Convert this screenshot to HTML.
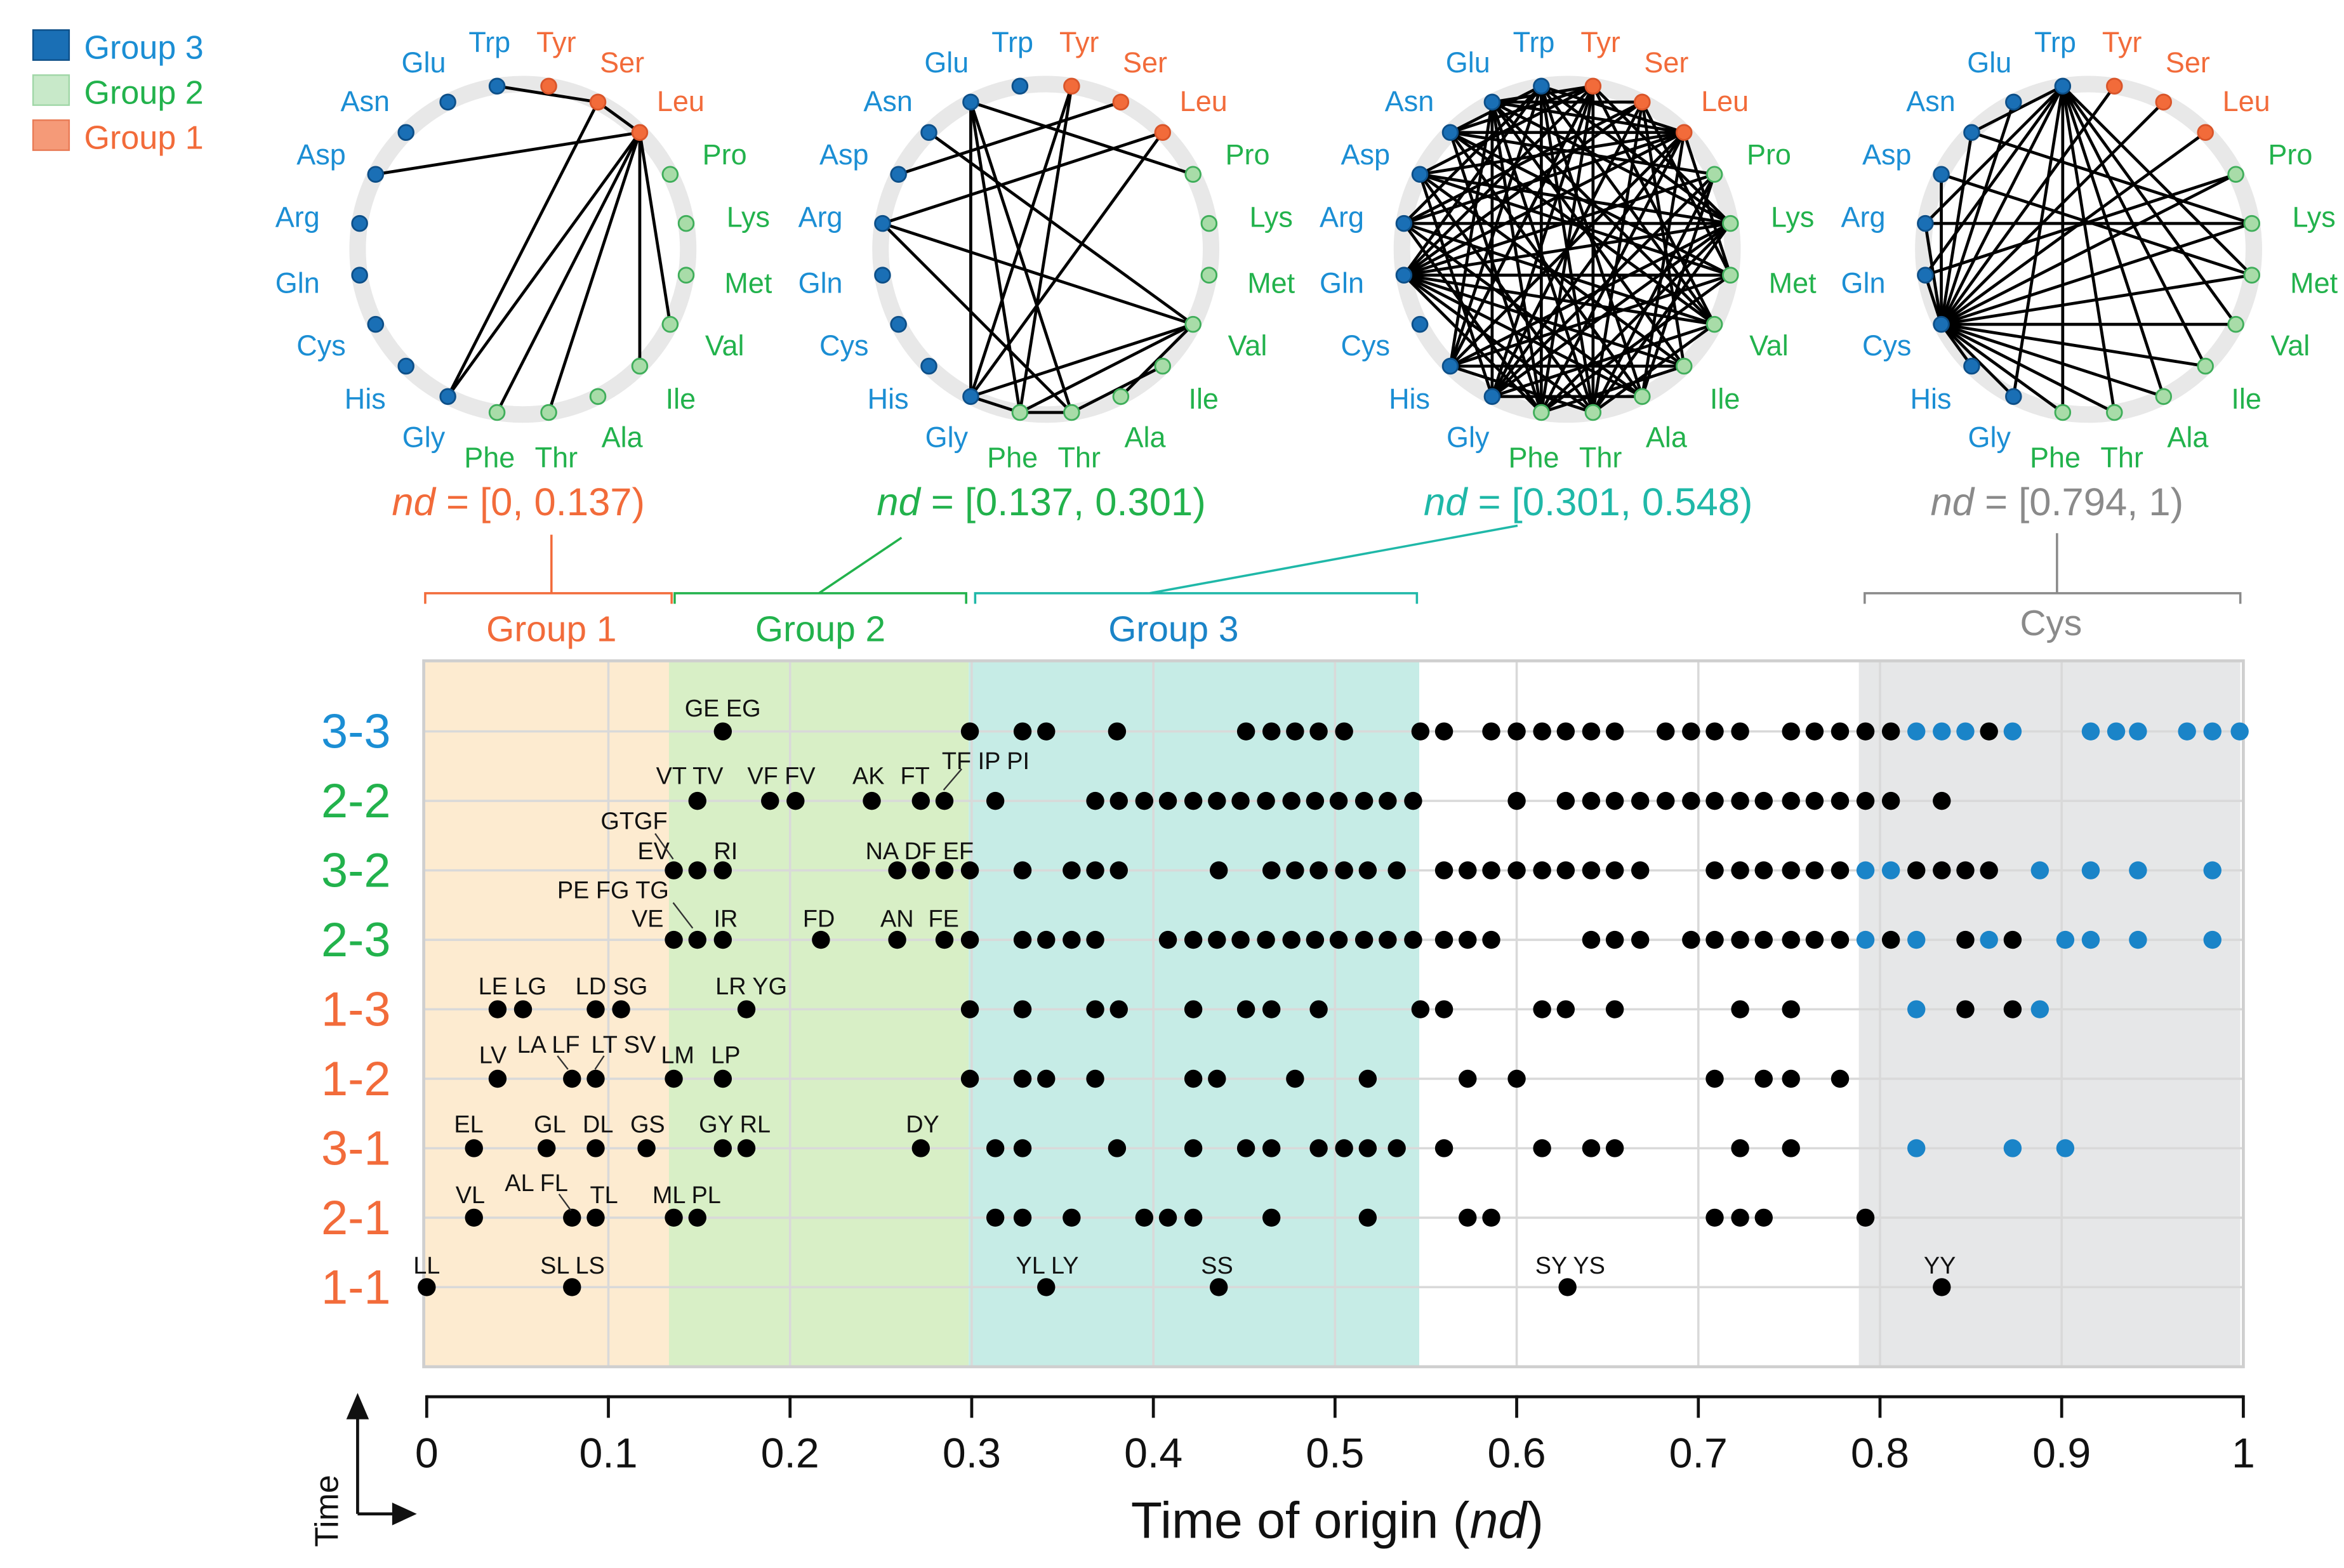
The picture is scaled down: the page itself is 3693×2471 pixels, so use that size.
<!DOCTYPE html>
<html><head><meta charset="utf-8">
<style>
html,body{margin:0;padding:0;background:#fff;}
svg{display:block;font-family:"Liberation Sans",sans-serif;}
</style></head>
<body>
<svg id="fig" width="3693" height="2471" viewBox="0 0 1560 1044" preserveAspectRatio="none" xmlns="http://www.w3.org/2000/svg">
  <g font-size="22">
    <rect x="22" y="20" width="24" height="20" fill="#1a6fb5" stroke="#0d4f88" stroke-width="1"/>
    <text x="56" y="39" fill="#1b8ed4">Group 3</text>
    <rect x="22" y="50" width="24" height="20" fill="#c8e9c9" stroke="#9fd6a6" stroke-width="1"/>
    <text x="56" y="69" fill="#22b24c">Group 2</text>
    <rect x="22" y="80" width="24" height="20" fill="#f59a78" stroke="#e87a55" stroke-width="1"/>
    <text x="56" y="99" fill="#f26b3a">Group 1</text>
  </g>
  <g id="networks"></g>

  <g font-size="26" text-anchor="middle">
    <text x="345" y="343" fill="#f26b3a"><tspan font-style="italic">nd</tspan> = [0, 0.137)</text>
    <text x="693" y="343" fill="#22b24c"><tspan font-style="italic">nd</tspan> = [0.137, 0.301)</text>
    <text x="1057" y="343" fill="#1fb8a8"><tspan font-style="italic">nd</tspan> = [0.301, 0.548)</text>
    <text x="1369" y="343" fill="#8a8a8a"><tspan font-style="italic">nd</tspan> = [0.794, 1)</text>
  </g>
  <g fill="none" stroke-width="1.5">
    <path d="M283,402 V395 H447 V402 M367,395 V356" stroke="#f26b3a"/>
    <path d="M449,402 V395 H643 V402 M545,395 L600,358" stroke="#22b24c"/>
    <path d="M649,402 V395 H943 V402 M765,395 L1010,350" stroke="#1fb8a8"/>
    <path d="M1241,402 V395 H1491 V402 M1369,395 V355" stroke="#8a8a8a"/>
  </g>
  <g font-size="24" text-anchor="middle">
    <text x="367" y="427" fill="#f26b3a">Group 1</text>
    <text x="546" y="427" fill="#22b24c">Group 2</text>
    <text x="781" y="427" fill="#1a84c8">Group 3</text>
    <text x="1365" y="423" fill="#8a8a8a">Cys</text>
  </g>
  <g id="chart"></g>

  <g font-size="16" text-anchor="middle" fill="#111">
    <text x="481" y="477">GE EG</text>
    <text x="459" y="522">VT TV</text><text x="520" y="522">VF FV</text><text x="578" y="522">AK</text><text x="609" y="522">FT</text><text x="656" y="512">TF IP PI</text>
    <text x="422" y="552">GTGF</text><text x="435" y="572">EV</text><text x="483" y="572">RI</text><text x="612" y="572">NA DF EF</text>
    <text x="408" y="598">PE FG TG</text><text x="431" y="617">VE</text><text x="483" y="617">IR</text><text x="545" y="617">FD</text><text x="597" y="617">AN</text><text x="628" y="617">FE</text>
    <text x="341" y="662">LE LG</text><text x="407" y="662">LD SG</text><text x="500" y="662">LR YG</text>
    <text x="328" y="708">LV</text><text x="365" y="701">LA LF</text><text x="415" y="701">LT SV</text><text x="451" y="708">LM</text><text x="483" y="708">LP</text>
    <text x="312" y="754">EL</text><text x="366" y="754">GL</text><text x="398" y="754">DL</text><text x="431" y="754">GS</text><text x="489" y="754">GY RL</text><text x="614" y="754">DY</text>
    <text x="313" y="801">VL</text><text x="357" y="793">AL FL</text><text x="402" y="801">TL</text><text x="457" y="801">ML PL</text>
    <text x="284" y="848">LL</text><text x="381" y="848">SL LS</text><text x="697" y="848">YL LY</text><text x="810" y="848">SS</text><text x="1045" y="848">SY YS</text><text x="1291" y="848">YY</text>
    <g stroke="#333" stroke-width="1" fill="none">
      <line x1="628" y1="526" x2="640" y2="512"/>
      <line x1="448" y1="572" x2="436" y2="555"/>
      <line x1="461" y1="618" x2="448" y2="601"/>
      <line x1="378" y1="712" x2="371" y2="703"/>
      <line x1="396" y1="712" x2="402" y2="703"/>
      <line x1="380" y1="806" x2="372" y2="795"/>
    </g>
  </g>

  <g stroke="#111" stroke-width="2" fill="none">
    <path d="M238,1008 V935 M238,1008 H268"/>
    <path d="M232,944 L238,930 L244,944 Z" fill="#111"/>
    <path d="M262,1002 L275,1008 L262,1014 Z" fill="#111"/>
  </g>
  <text x="0" y="0" transform="translate(225,1030) rotate(-90)" font-size="22" fill="#111">Time</text>
  <text x="890" y="1024" text-anchor="middle" font-size="34" fill="#111">Time of origin (<tspan font-style="italic">nd</tspan>)</text>

<script>
const rowNames = ["3-3","2-2","3-2","2-3","1-3","1-2","3-1","2-1","1-1"];
const rowColors = ["#1b8ed4","#22b24c","#22b24c","#22b24c","#f26b3a","#f26b3a","#f26b3a","#f26b3a","#f26b3a"];
const black33 = [.163,.299,.328,.341,.380,.451,.465,.478,.491,.505,.547,.560,.586,.600,.614,.627,.641,.654,.682,.696,.709,.723,.751,.764,.778,.792,.806,.860];
const blue33 = [.820,.834,.847,.873,.916,.930,.942,.969,.983,.998];
const black22 = [.149,.189,.203,.245,.272,.285,.313,.368,.381,.395,.408,.422,.435,.448,.462,.476,.489,.502,.516,.529,.543,.600,.627,.641,.654,.668,.682,.696,.709,.723,.736,.751,.764,.778,.792,.806,.834];
const blue22 = [];
const black32 = [.136,.149,.163,.259,.272,.285,.299,.328,.355,.368,.381,.436,.465,.478,.491,.505,.518,.534,.560,.573,.586,.600,.614,.627,.641,.654,.668,.709,.723,.736,.751,.764,.778,.820,.834,.847,.860];
const blue32 = [.792,.806,.888,.916,.942,.983];
const black23 = [.136,.149,.163,.217,.259,.285,.299,.328,.341,.355,.368,.408,.422,.435,.448,.462,.476,.489,.502,.516,.529,.543,.560,.573,.586,.641,.654,.668,.696,.709,.723,.736,.751,.764,.778,.806,.847,.873];
const blue23 = [.792,.820,.860,.902,.916,.942,.983];
const black13 = [.039,.053,.093,.107,.176,.299,.328,.368,.381,.422,.451,.465,.491,.547,.560,.614,.627,.654,.723,.751,.847,.873];
const blue13 = [.820,.888];
const black12 = [.039,.080,.093,.136,.163,.299,.328,.341,.368,.422,.435,.478,.518,.573,.600,.709,.736,.751,.778];
const blue12 = [];
const black31 = [.026,.066,.093,.121,.163,.176,.272,.313,.328,.380,.422,.451,.465,.491,.505,.518,.534,.560,.614,.641,.654,.723,.751];
const blue31 = [.820,.873,.902];
const black21 = [.026,.080,.093,.136,.149,.313,.328,.355,.395,.408,.422,.465,.518,.573,.586,.709,.723,.736,.792];
const blue21 = [];
const black11 = [0,.080,.341,.436,.628,.834];
const blue11 = [];
const blackRows = [black33,black22,black32,black23,black13,black12,black31,black21,black11];
const blueRows = [blue33,blue22,blue32,blue23,blue13,blue12,blue31,blue21,blue11];
const xTicks = [0,0.1,0.2,0.3,0.4,0.5,0.6,0.7,0.8,0.9,1];
const xTickLabels = ["0","0.1","0.2","0.3","0.4","0.5","0.6","0.7","0.8","0.9","1"];
const bands = [[0,0.135,"#fdebd0"],[0.135,0.30,"#d8efc6"],[0.30,0.548,"#c6ece6"],[0.79,1,"#e6e7e8"]];
const bandNames = ["band-group-1","band-group-2","band-group-3","band-cys"];

const NS = "http://www.w3.org/2000/svg";
function mk(tag, attrs, parent){const e=document.createElementNS(NS,tag);for(const k in attrs)e.setAttribute(k,attrs[k]);parent.appendChild(e);return e;}
const X0=284, X1=1493;
const xs = v => X0 + v*(X1-X0);
const ys = i => 487 + i*46.25;
const chart = document.getElementById("chart");

bands.forEach((b,i)=>{
  const r = mk("rect",{x:xs(b[0])-2,y:440,width:xs(b[1])-xs(b[0])+(i==0?2:0),height:470,fill:b[2]},chart);
  
  
});
xTicks.forEach(t=>{ if(t>0&&t<1){ const g=mk("line",{x1:xs(t),x2:xs(t),y1:440,y2:910,stroke:"#d9d9d9","stroke-width":1.5},chart);
  
  }});
rowNames.forEach((n,i)=>{
  const l=mk("line",{x1:282,x2:1493,y1:ys(i),y2:ys(i),stroke:"#d9d9d9","stroke-width":1.5},chart);
  
  
  const t=mk("text",{x:260,y:ys(i)+11,"text-anchor":"end","font-size":32,fill:rowColors[i]},chart);
  t.textContent=n;
  
  
});
const frame=mk("rect",{x:282,y:440,width:1211,height:470,fill:"none",stroke:"#cfcfcf","stroke-width":2},chart);


blackRows.forEach((arr,i)=>arr.forEach(v=>{
  const c=mk("circle",{cx:xs(v),cy:ys(i),r:6,fill:"#000"},chart);
  
  
}));
blueRows.forEach((arr,i)=>arr.forEach(v=>{
  const c=mk("circle",{cx:xs(v),cy:ys(i),r:6,fill:"#1a84c8"},chart);
  
  
}));
const ax=mk("line",{x1:X0,x2:X1,y1:930,y2:930,stroke:"#111","stroke-width":2},chart);


xTicks.forEach((t,i)=>{
  const tk=mk("line",{x1:xs(t),x2:xs(t),y1:929,y2:944,stroke:"#111","stroke-width":2},chart);
  
  
  const tl=mk("text",{x:xs(t),y:977,"text-anchor":"middle","font-size":28,fill:"#111"},chart);
  tl.textContent=xTickLabels[i];
  
  
});

const aa = ["Trp","Tyr","Ser","Leu","Pro","Lys","Met","Val","Ile","Ala","Thr","Phe","Gly","His","Cys","Gln","Arg","Asp","Asn","Glu"];
const aaGroup = [3,1,1,1,2,2,2,2,2,2,2,2,3,3,3,3,3,3,3,3];
const edges1 = [[3,17],[3,12],[3,11],[3,10],[3,8],[3,7],[2,12],[0,2],[2,3]];
const edges2 = [[19,10],[19,11],[19,12],[19,4],[1,12],[1,11],[16,3],[16,10],[16,7],[18,7],[12,7],[11,7],[9,7],[10,8],[12,11],[11,10],[3,12],[2,17]];
const hubs3 = {15:[0,1,2,3,4,5,6,7,8,9,10,11],16:[0,2,3,5,7,9,11],17:[1,3,5,6,8,10,12],18:[0,1,3,4,6,7,9,11],19:[1,2,3,5,7,8,10,11,12,13],13:[0,1,3,5,6,8,10],12:[1,3,5,7,9],0:[3,5,7,9,10,11],1:[5,7,10,11,13],2:[6,8,10,12],3:[6,9,11],4:[9,10,12],5:[10,11],11:[6,8],10:[7]};
const hubs4 = {14:[0,1,2,3,4,5,6,7,8,9,10,11,12,13,15,16,17,18,19],0:[6,7,8,9,10,11,12,15,16,18],17:[6],16:[5],18:[5],15:[4]};
function expand(h){const o=[];for(const k in h)h[k].forEach(j=>o.push([+k,j]));return o;}
const netEdges=[edges1,edges2,expand(hubs3),expand(hubs4)];
const centersX=[348,696,1043,1390];
const CY=166, R=110;
const nodeFill={1:"#f26b3a",2:"#a8dca8",3:"#1a6fb5"};
const nodeStroke={1:"#d9552a",2:"#3fae5a",3:"#0d4f88"};
const labelCol={1:"#f26b3a",2:"#22b24c",3:"#1b8ed4"};
const nets=document.getElementById("networks");
netEdges.forEach((E,n)=>{
  const g=mk("g",{},nets);
  
  
  const cx=centersX[n];
  mk("circle",{cx:cx,cy:CY,r:R,fill:"none",stroke:"#e8e8e8","stroke-width":11},g);
  const pos=aa.map((a,k)=>{const ang=(-99+18*k)*Math.PI/180;return [cx+R*Math.cos(ang),CY+R*Math.sin(ang),ang];});
  E.forEach(e=>{const l=mk("line",{x1:pos[e[0]][0],y1:pos[e[0]][1],x2:pos[e[1]][0],y2:pos[e[1]][1],stroke:"#000","stroke-width":2},g);
    
    });
  aa.forEach((a,k)=>{
    const p=pos[k];
    const c=mk("circle",{cx:p[0],cy:p[1],r:5,fill:nodeFill[aaGroup[k]],stroke:nodeStroke[aaGroup[k]],"stroke-width":1.2},g);
    
    
    const lr=R+30, cs=Math.cos(p[2]);
    const t=mk("text",{x:cx+(lr+12*Math.abs(cs))*cs,y:CY+lr*Math.sin(p[2])+7,"text-anchor":"middle","font-size":19,fill:labelCol[aaGroup[k]]},g);
    t.textContent=a;
    
    
  });
});
</script>
</svg>
</body></html>
